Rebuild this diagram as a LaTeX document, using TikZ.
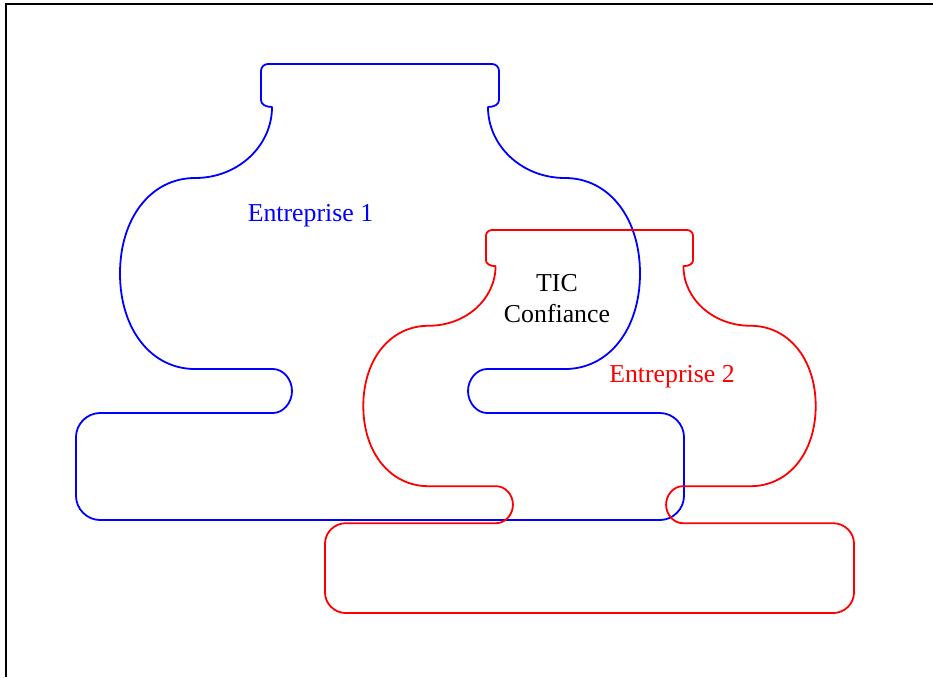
\documentclass[tikz,border=0pt]{standalone}
\usepackage{fontspec}
\setmainfont{Liberation Serif}
\begin{document}
\begin{tikzpicture}[x=0.5pt,y=-0.5pt,
  outline/.style={line width=0.9pt, line join=round},
  caption/.style={font=\fontsize{12.9}{15}\selectfont, inner sep=0pt, anchor=base},
  jar/.pic={
    \draw[pic actions]
      (0,0) -- (-112,0) .. controls (-116,0) and (-119,3) .. (-119,7)
      -- (-119,36) .. controls (-119,40) and (-115,43) .. (-108,43)
      .. controls (-108,82) and (-142,114) .. (-185,114)
      .. controls (-229,114) and (-260,154) .. (-260,209.5)
      .. controls (-260,265) and (-229,305) .. (-185,305)
      -- (-107,305) .. controls (-97,305) and (-88,315) .. (-88,327)
      .. controls (-88,339) and (-97,349) .. (-107,349)
      -- (-280,349) .. controls (-293,349) and (-304,360) .. (-304,373)
      -- (-304,432) .. controls (-304,445) and (-293,456) .. (-280,456)
      -- (280,456) .. controls (293,456) and (304,445) .. (304,432)
      -- (304,373) .. controls (304,360) and (293,349) .. (280,349)
      -- (107,349) .. controls (97,349) and (88,339) .. (88,327)
      .. controls (88,315) and (97,305) .. (107,305)
      -- (185,305) .. controls (229,305) and (260,265) .. (260,209.5)
      .. controls (260,154) and (229,114) .. (185,114)
      .. controls (142,114) and (108,82) .. (108,43)
      .. controls (115,43) and (119,40) .. (119,36)
      -- (119,7) .. controls (119,3) and (116,0) .. (112,0) -- cycle;
  }]
\useasboundingbox (0,0) rectangle (933,677);

% frame (left and top edges only)
\draw[line width=1.2pt] (6,677) -- (6,4) -- (933,4);

% the two enterprise outlines
\pic[outline, draw=blue] (e1) at (380,64) {jar};
\pic[outline, draw=red, xscale=0.87, yscale=0.84] (e2) at (589.5,230) {jar};

% labels
\node[caption, text=blue] (l1) at (310.5,221) {Entreprise 1};
\node[caption, text=red] (l2) at (672,382) {Entreprise 2};
\node[caption] (tic) at (557,291) {TIC};
\node[caption] (conf) at (557,322) {Confiance};
\end{tikzpicture}
\end{document}
